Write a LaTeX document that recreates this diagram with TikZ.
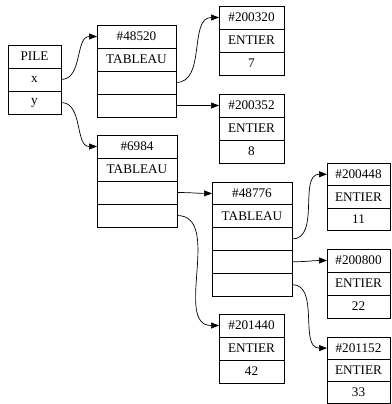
\documentclass[tikz,border=0pt]{standalone}
\usepackage{fontspec}
\setmainfont{Liberation Serif}
\usetikzlibrary{arrows.meta}
\begin{document}
\begin{tikzpicture}[x=1pt,y=-1pt,
  cell/.style={draw, line width=0.7pt, inner sep=0pt, outer sep=0pt, anchor=north west,
    minimum width=#1, font=\fontsize{13.2}{15}\selectfont},
  link/.style={line width=0.7pt, -{Triangle[length=8pt,width=6pt]}}]
\useasboundingbox (0,0) rectangle (391,404);
% PILE
\node[cell=53pt, minimum height=23pt] (p0) at (8,45) {PILE};
\node[cell=53pt, minimum height=23pt] (p1) at (8,68) {x};
\node[cell=53pt, minimum height=23pt] (p2) at (8,91) {y};
% #48520
\node[cell=79pt, minimum height=23pt] (a0) at (97,25) {\#48520};
\node[cell=79pt, minimum height=23pt] (a1) at (97,48) {TABLEAU};
\node[cell=79pt, minimum height=23pt] (a2) at (97,71) {};
\node[cell=79pt, minimum height=23pt] (a3) at (97,94) {};
% #200320
\node[cell=65pt, minimum height=23pt] (b0) at (219,6) {\#200320};
\node[cell=65pt, minimum height=23pt] (b1) at (219,29) {ENTIER};
\node[cell=65pt, minimum height=23pt] (b2) at (219,52) {7};
% #200352
\node[cell=65pt, minimum height=23pt] (c0) at (219,94) {\#200352};
\node[cell=65pt, minimum height=23pt] (c1) at (219,117) {ENTIER};
\node[cell=65pt, minimum height=23pt] (c2) at (219,140) {8};
% #6984
\node[cell=80pt, minimum height=23pt] (d0) at (97,135) {\#6984};
\node[cell=80pt, minimum height=23pt] (d1) at (97,158) {TABLEAU};
\node[cell=80pt, minimum height=23pt] (d2) at (97,181) {};
\node[cell=80pt, minimum height=23pt] (d3) at (97,204) {};
% #48776
\node[cell=80pt, minimum height=22.8pt] (e0) at (212,182) {\#48776};
\node[cell=80pt, minimum height=22.8pt] (e1) at (212,204.8) {TABLEAU};
\node[cell=80pt, minimum height=22.8pt] (e2) at (212,227.6) {};
\node[cell=80pt, minimum height=22.8pt] (e3) at (212,250.4) {};
\node[cell=80pt, minimum height=22.8pt] (e4) at (212,273.2) {};
% #200448
\node[cell=63pt, minimum height=22.5pt] (f0) at (327,163) {\#200448};
\node[cell=63pt, minimum height=22.5pt] (f1) at (327,185.5) {ENTIER};
\node[cell=63pt, minimum height=22.5pt] (f2) at (327,208) {11};
% #200800
\node[cell=63pt, minimum height=23pt] (g0) at (327,249) {\#200800};
\node[cell=63pt, minimum height=23pt] (g1) at (327,272) {ENTIER};
\node[cell=63pt, minimum height=23pt] (g2) at (327,295) {22};
% #201152
\node[cell=63pt, minimum height=22.2pt] (h0) at (327,337) {\#201152};
\node[cell=63pt, minimum height=22.2pt] (h1) at (327,359.2) {ENTIER};
\node[cell=63pt, minimum height=22.2pt] (h2) at (327,381.4) {33};
% #201440
\node[cell=65pt, minimum height=23pt] (i0) at (219,314) {\#201440};
\node[cell=65pt, minimum height=23pt] (i1) at (219,337) {ENTIER};
\node[cell=65pt, minimum height=23pt] (i2) at (219,360) {42};
% links
\draw[link] (p1.east) to[out=0,in=180] (a0.west);
\draw[link] (p2.east) to[out=0,in=180] (d0.west);
\draw[link] (a2.east) to[out=0,in=180] (b0.west);
\draw[link] (a3.east) to[out=0,in=180] (c0.west);
\draw[link] (d2.east) to[out=0,in=180] (e0.west);
\draw[link] (d3.east) to[out=0,in=180] (i0.west);
\draw[link] (e2.east) to[out=0,in=180] (f0.west);
\draw[link] (e3.east) to[out=0,in=180] (g0.west);
\draw[link] (e4.east) to[out=0,in=180] (h0.west);
\end{tikzpicture}
\end{document}
